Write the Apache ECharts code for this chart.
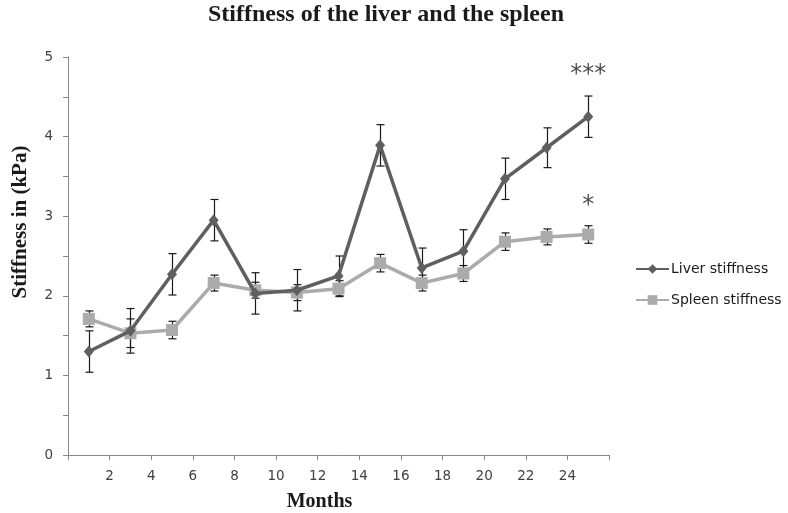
<!DOCTYPE html>
<html><head><meta charset="utf-8">
<script src="https://cdn.jsdelivr.net/npm/echarts@6/dist/echarts.min.js"></script>
<style>html,body{margin:0;padding:0;background:#fff}#c{width:788px;height:513px}</style>
</head><body><div id="c"></div>
<script>
const months = [1,3,5,7,9,11,13,15,17,19,21,23,25];
const liver = [1.30,1.56,2.27,2.95,2.03,2.07,2.25,3.89,2.35,2.56,3.47,3.86,4.25];
const liverErr = [0.26,0.28,0.26,0.26,0.26,0.26,0.25,0.26,0.25,0.27,0.26,0.25,0.26];
const spleen = [1.71,1.53,1.57,2.16,2.07,2.04,2.09,2.41,2.16,2.28,2.68,2.74,2.77];
const spleenErr = [0.10,0.18,0.11,0.10,0.10,0.10,0.10,0.11,0.10,0.10,0.11,0.10,0.11];
const annotations = [[25, 4.78, '***'], [25, 3.13, '*']];

const chart = echarts.init(document.getElementById('c'));
function errSeries(vals, errs, z){
  return {
    type:'custom', z:z, silent:true,
    data: months.map((m,i)=>[m, vals[i]-errs[i], vals[i]+errs[i]]),
    renderItem:(params, api)=>{
      const lo = api.coord([api.value(0), api.value(1)]);
      const hi = api.coord([api.value(0), api.value(2)]);
      const x = Math.round(lo[0])+0.5, c=4;
      const st = {stroke:'#1a1a1a', lineWidth:1.2};
      return {type:'group', children:[
        {type:'line', shape:{x1:x,y1:lo[1],x2:x,y2:hi[1]}, style:st},
        {type:'line', shape:{x1:x-c,y1:lo[1],x2:x+c,y2:lo[1]}, style:st},
        {type:'line', shape:{x1:x-c,y1:hi[1],x2:x+c,y2:hi[1]}, style:st}
      ]};
    }
  };
}
const axisFont = {fontFamily:'DejaVu Sans', fontSize:13.5, color:'#404040'};
chart.setOption({
  animation:false,
  title:{text:'Stiffness of the liver and the spleen', left:381, top:-2, textAlign:'center',
    textStyle:{fontFamily:'Liberation Serif', fontWeight:'bold', fontSize:24, color:'#1a1a1a'}},
  grid:{left:68, right:179, top:57, bottom:58, containLabel:false, outerBoundsMode:'none'},
  legend:{orient:'vertical', left:635, top:262, padding:0, itemWidth:33, itemHeight:12, itemGap:17,
    textStyle:{fontFamily:'DejaVu Sans', fontSize:14, color:'#1a1a1a', padding:[0,0,0,-3]},
    data:['Liver stiffness','Spleen stiffness']},
  xAxis:{type:'value', min:0, max:26, interval:2,
    name:'Months', nameLocation:'middle', nameGap:37,
    nameTextStyle:{fontFamily:'Liberation Serif', fontWeight:'bold', fontSize:20, color:'#1a1a1a', padding:[0,38,0,0]},
    axisLine:{lineStyle:{color:'#888'}}, axisTick:{lineStyle:{color:'#888'}, length:5},
    splitLine:{show:false},
    axisLabel:Object.assign({margin:14, formatter:v=>(v===0||v===26)?'':String(v)}, axisFont)},
  yAxis:{type:'value', min:0, max:5, interval:0.5,
    name:'Stiffness in (kPa)', nameLocation:'middle', nameGap:37,
    nameTextStyle:{fontFamily:'Liberation Serif', fontWeight:'bold', fontSize:21, color:'#1a1a1a', padding:[0,0,0,68]},
    axisLine:{show:true, lineStyle:{color:'#888'}}, axisTick:{show:true, lineStyle:{color:'#888'}, length:5},
    splitLine:{show:false},
    axisLabel:Object.assign({margin:15, formatter:v=>Number.isInteger(v)?String(v):''}, axisFont)},
  series:[
    errSeries(spleen, spleenErr, 1),
    errSeries(liver, liverErr, 2),
    {name:'Spleen stiffness', type:'line', z:3, data:months.map((m,i)=>[m,spleen[i]]),
      symbol:'rect', symbolSize:12, lineStyle:{color:'#ababab', width:3.5},
      itemStyle:{color:'#ababab'}},
    {name:'Liver stiffness', type:'line', z:4, data:months.map((m,i)=>[m,liver[i]]),
      symbol:'diamond', symbolSize:[10,12], lineStyle:{color:'#5f5f5f', width:3.5},
      itemStyle:{color:'#5f5f5f'}},
    {type:'scatter', z:5, silent:true, symbolSize:0, data:annotations.map(a=>[a[0],a[1],a[2]]),
      label:{show:true, position:'inside', formatter:p=>p.data[2],
        fontFamily:'DejaVu Sans', fontSize:24, color:'#222'}}
  ]
});
</script></body></html>
